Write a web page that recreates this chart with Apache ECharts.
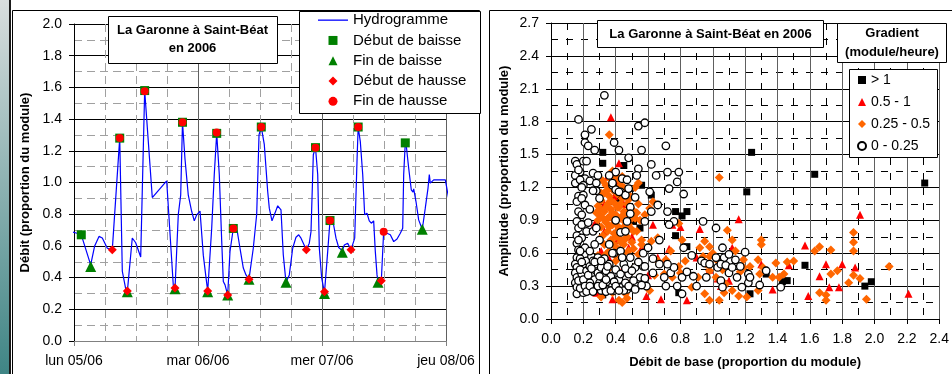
<!DOCTYPE html>
<html>
<head>
<meta charset="utf-8">
<script src="https://cdn.jsdelivr.net/npm/echarts/dist/echarts.min.js"></script>
<style>
  html, body { margin: 0; padding: 0; background: #fff; }
  #chart { width: 952px; height: 374px; }
</style>
</head>
<body>
<div id="chart"></div>
<script>
// ---- hydrogramme (heures depuis lun 05/06 00:00) ----
const dayLabels = ['lun 05/06', 'mar 06/06', 'mer 07/06', 'jeu 08/06'];
const hydroHours = [-0.97,-0.58,0.58,1.41,3.23,4.0,4.84,5.48,6.45,7.41,8.85,9.35,10.0,10.32,11.28,11.94,12.91,13.68,15.15,17.94,
  19.22,19.55,20.19,20.65,21.0,21.48,22.12,22.78,23.28,23.75,24.39,25.03,25.55,25.88,26.65,27.15,27.62,28.12,28.59,28.9,
  29.23,29.75,30.19,30.83,31.61,32.13,32.77,33.29,33.87,34.7,35.36,35.81,36.25,36.83,37.49,37.8,38.32,38.9,39.43,40.06,
  40.51,41.03,41.67,42.33,42.97,43.49,43.94,44.96,45.54,45.87,46.32,46.74,47.17,47.48,47.94,48.48,49.1,49.55,50.19,50.71,
  51.23,51.93,52.32,52.97,53.61,54.33,54.77,55.0,55.41,55.88,56.26,56.71,57.15,57.54,58.0,58.32,58.65,58.84,59.48,59.94,
  60.58,61.22,61.88,62.52,63.16,63.62,63.81,64.12,64.32,64.78,65.28,65.61,65.75,66.19,66.71,67.03,67.41,67.99,68.52,68.77,
  68.96,69.62,71.87,72.52,73.02];
const hydroFlow = [0.65,0.69,0.68,0.67,0.48,0.60,0.66,0.65,0.585,0.575,1.28,0.44,0.33,0.31,0.65,0.62,0.53,1.58,0.905,1.01,
  0.35,0.33,0.80,0.92,1.38,1.15,0.92,0.817,0.758,0.796,0.82,0.54,0.40,0.315,0.71,1.05,1.31,1.05,0.63,0.375,
  0.354,0.29,0.564,0.71,0.69,0.585,0.46,0.417,0.39,0.585,0.80,1.30,1.35,1.24,0.943,0.838,0.758,0.807,0.853,0.828,
  0.543,0.37,0.417,0.585,0.655,0.67,0.649,0.575,0.617,0.69,1.175,1.22,1.05,0.585,0.396,0.305,0.564,0.76,0.743,0.649,
  0.59,0.57,0.606,0.617,0.575,0.649,1.13,1.35,1.26,1.05,0.796,0.806,0.758,0.743,0.758,0.564,0.417,0.375,0.379,0.695,
  0.68,0.67,0.627,0.644,0.68,0.712,1.05,1.25,1.23,1.09,0.954,0.94,0.96,0.88,0.764,0.737,0.705,0.838,0.965,1.05,
  0.996,1.017,1.017,0.90,0.417];

const baisseStart = [[1.41,0.67],[8.85,1.28],[13.68,1.58],[21.0,1.38],[27.62,1.31],[30.83,0.71],[36.25,1.35],[46.74,1.22],[49.55,0.76],[55.0,1.35],[64.12,1.25]];
const baisseEnd = [[3.23,0.47],[10.32,0.31],[19.55,0.33],[25.88,0.31],[29.75,0.29],[33.87,0.39],[41.03,0.37],[48.48,0.30],[51.93,0.56],[58.84,0.37],[67.41,0.705]];
const hausseStart = [[7.41,0.575],[10.32,0.315],[19.55,0.335],[25.88,0.315],[29.75,0.29],[33.87,0.39],[44.96,0.575],[48.48,0.31],[53.61,0.575],[59.48,0.38]];
const hausseEnd = [[8.85,1.28],[13.68,1.575],[21.0,1.38],[27.62,1.315],[30.83,0.71],[36.25,1.35],[46.74,1.22],[49.55,0.76],[55.0,1.35],[59.94,0.69]];

// ---- amplitude / débit de base, par classe de gradient ----
const gradAbove1 = [[0.32,1.52],[0.32,1.42],[0.45,1.40],[0.49,1.19],[0.56,1.22],[0.62,1.13],[1.24,1.52],[1.21,1.16],[1.63,1.32],[2.31,1.24],
  [0.77,0.98],[0.84,0.98],[0.81,0.94],[0.77,0.76],[0.84,0.66],[1.57,0.49],[1.98,0.34],[1.94,0.30],[1.46,0.35],[1.43,0.34],
  [1.33,0.41],[1.23,0.23],[1.07,0.32],[0.79,0.24],[0.32,0.22],[0.20,0.24],[0.41,1.10],[0.51,0.89],[0.55,0.83],[0.41,0.63],[0.25,0.26]];
const grad05to1 = [[0.37,1.84],[0.42,1.42],[1.91,0.95],[1.16,0.91],[0.92,0.82],[0.80,0.84],[0.75,0.86],[0.63,0.86],[1.57,0.67],[1.30,0.50],
  [1.70,0.50],[1.80,0.50],[1.88,0.47],[1.66,0.39],[1.72,0.29],[2.21,0.23],[1.59,0.21],[1.37,0.27],[1.47,0.49],[0.84,0.17],
  [0.68,0.18],[0.59,0.21],[0.38,0.18],[0.28,0.24],[0.73,0.64],[0.56,0.65],[0.48,0.65],[0.41,0.72],[0.27,0.87],[0.29,1.17],
  [0.35,1.30],[0.40,1.25],[0.45,1.05],[0.38,0.95],[0.33,0.80],[0.50,0.75],[1.12,0.65],[1.05,0.30],[0.98,0.45],[0.90,0.56],
  [1.10,0.35],[1.78,0.29],[0.60,0.40],[0.44,0.45],[0.36,0.55],[0.66,0.56],[1.03,0.37],[0.52,0.30],[0.71,0.55],[0.31,0.62],
  [0.39,1.12],[0.33,1.05],[0.47,0.91]];
const grad025to05 = [[0.36,1.68],[1.04,1.29],[0.54,1.24],[1.87,0.79],[1.87,0.70],[1.87,0.62],[1.87,0.40],[1.91,0.37],[1.95,0.18],[2.09,0.48],
  [1.84,0.33],[1.77,0.44],[1.73,0.41],[1.73,0.63],[1.66,0.66],[1.63,0.62],[1.66,0.24],[1.70,0.22],[1.70,0.17],[1.50,0.53],
  [1.46,0.52],[1.39,0.51],[1.37,0.38],[1.41,0.38],[1.44,0.41],[1.30,0.72],[1.30,0.68],[1.29,0.41],[1.31,0.47],[1.28,0.26],
  [1.21,0.20],[1.16,0.21],[1.12,0.26],[1.12,0.72],[1.09,0.81],[1.14,0.62],[1.19,0.47],[1.17,0.43],[1.07,0.24],[1.04,0.17],
  [0.98,0.17],[0.95,0.23],[0.98,0.44],[0.95,0.71],[0.98,0.66],[1.00,0.60],[0.98,0.57],[0.94,0.57],[1.03,0.53],[1.06,0.45],
  [1.02,0.38],[0.87,0.29],[0.83,0.53],[0.79,0.48],[0.80,0.42],[0.79,0.87],[0.81,0.72],[0.74,0.62],[0.71,0.54],[0.66,0.53],
  [0.66,0.74],[0.62,0.71],[0.61,1.01],[0.63,1.07],[0.58,0.95],[0.56,0.68],[0.54,0.59],[0.52,0.48],[0.49,0.42],[0.46,0.23],
  [0.42,0.17],[0.38,0.24],[0.34,0.29],[0.31,0.20],[0.37,0.38],[0.40,0.53],[0.48,0.32],[0.61,0.26],[0.70,0.41],[0.75,0.38],
  [0.91,0.38],[0.96,0.50],[0.92,0.65],[1.08,0.32],[1.28,0.54],[1.23,0.48],[1.19,0.54],[0.44,0.15],[0.47,0.19],[0.35,0.45],
  [0.29,0.58],[0.64,0.40],
  [0.30,1.00],[0.30,0.95],[0.31,1.08],[0.32,0.92],[0.33,1.15],[0.33,0.98],[0.34,1.22],[0.34,0.88],[0.35,1.05],[0.35,0.80],
  [0.36,1.12],[0.36,0.93],[0.37,1.27],[0.37,1.00],[0.37,0.72],[0.38,1.18],[0.38,0.86],[0.39,1.06],[0.39,0.78],[0.40,1.30],
  [0.40,0.95],[0.40,0.66],[0.41,1.14],[0.41,0.85],[0.42,1.02],[0.42,0.74],[0.43,1.22],[0.43,0.92],[0.44,1.10],[0.44,0.80],
  [0.45,0.98],[0.45,0.68],[0.46,1.16],[0.46,0.88],[0.47,1.05],[0.47,0.75],[0.48,0.95],[0.49,1.12],[0.49,0.83],[0.50,1.00],
  [0.50,0.70],[0.52,0.92],[0.52,1.20],[0.53,0.80],[0.54,1.05],[0.55,0.90],[0.32,1.26],[0.29,0.90],[0.36,0.62],[0.42,0.60],
  [0.31,0.84],[0.38,1.35],[0.44,1.30],[0.48,0.62],[0.51,0.64],[0.56,0.72],
  [0.29,1.03],[0.31,1.15],[0.32,0.76],[0.33,0.68],[0.34,1.02],[0.35,0.92],[0.35,1.18],[0.36,0.84],[0.37,1.08],[0.38,0.69],
  [0.38,0.97],[0.39,1.20],[0.39,0.90],[0.40,0.75],[0.41,1.02],[0.41,0.93],[0.42,1.27],[0.42,0.82],[0.43,0.70],[0.43,1.05],
  [0.44,0.94],[0.45,1.20],[0.45,0.84],[0.46,0.73],[0.47,0.98],[0.48,0.86],[0.48,1.09],[0.50,0.92],[0.51,0.80],[0.53,0.97],
  [0.34,0.59],[0.40,0.58],[0.45,0.60],[0.28,0.97]];
const grad0to025 = [[0.33,2.04],[0.17,1.82],[0.25,1.73],[0.21,1.68],[0.21,1.61],[0.23,1.58],[0.27,1.54],[0.39,1.61],[0.42,1.54],[0.54,1.76],
  [0.58,1.79],[0.56,1.54],[0.71,1.58],[0.48,1.47],[0.62,1.41],[0.54,1.37],[0.72,1.34],[0.79,1.34],[0.65,1.31],[0.78,1.25],
  [0.73,1.19],[0.82,1.14],[0.15,1.44],[0.16,1.41],[0.20,1.44],[0.22,1.44],[0.18,1.34],[0.15,1.31],[0.21,1.28],[0.15,1.24],
  [0.26,1.33],[0.29,1.31],[0.18,1.27],[0.24,1.26],[0.28,1.24],[0.40,1.34],[0.36,1.31],[0.44,1.28],[0.47,1.27],[0.53,1.31],
  [0.38,1.22],[0.43,1.16],[0.46,1.13],[0.17,1.12],[0.20,1.13],[0.28,1.17],[0.40,1.18],
  [0.16,1.07],[0.17,0.98],[0.16,0.89],[0.17,0.83],[0.16,0.76],[0.16,0.69],[0.17,0.63],[0.16,0.56],[0.15,0.50],[0.16,0.47],
  [0.15,0.42],[0.16,0.38],[0.15,0.33],[0.16,0.29],[0.16,0.23],[0.19,1.10],[0.19,0.95],[0.19,0.86],[0.19,0.74],[0.21,0.59],
  [0.20,0.50],[0.19,0.41],[0.19,0.32],[0.20,0.24],[0.18,0.55],[0.18,0.45],[0.18,0.28],[0.21,0.65],[0.21,1.04],[0.22,0.80],
  [0.22,0.44],[0.22,0.53],[0.23,0.35],[0.23,0.27],[0.24,0.48],[0.25,0.57],[0.25,0.40],[0.26,0.53],[0.26,0.31],[0.27,0.45],
  [0.27,0.36],[0.28,0.50],[0.28,0.28],[0.29,0.42],[0.29,0.56],[0.30,0.33],[0.31,0.47],[0.31,0.26],[0.32,0.38],[0.33,0.55],
  [0.33,0.29],[0.34,0.44],[0.35,0.34],[0.36,0.27],[0.36,0.50],[0.37,0.39],[0.38,0.30],[0.39,0.60],[0.40,0.45],[0.41,0.28],
  [0.42,0.36],[0.43,0.62],[0.44,0.29],[0.45,0.50],[0.46,0.33],[0.47,0.27],[0.48,0.41],[0.49,0.56],[0.50,0.29],[0.52,0.47],
  [0.53,0.30],[0.55,0.38],[0.57,0.48],[0.58,0.37],[0.59,0.30],[0.26,0.80],[0.28,0.83],[0.30,0.72],[0.36,0.68],[0.38,0.60],
  [0.40,0.90],[0.43,0.79],[0.46,0.80],[0.47,0.89],[0.49,1.02],[0.49,0.96],[0.52,1.11],[0.48,1.19],[0.42,1.16],[0.38,1.24],
  [0.61,1.16],[0.62,0.98],[0.66,1.04],[0.67,0.72],[0.58,0.89],[0.30,1.10],[0.24,0.62],[0.27,0.68],[0.24,0.33],[0.34,0.25],
  [0.39,0.26],[0.45,0.26],[0.51,0.35],
  [0.58,0.48],[0.63,0.42],[0.67,0.50],[0.70,0.38],[0.71,0.30],[0.74,0.42],[0.76,0.47],[0.72,0.50],[0.78,0.30],[0.81,0.23],
  [0.82,0.65],[0.81,0.38],[0.84,0.43],[0.87,0.58],[0.88,0.39],[0.90,0.30],[0.72,0.98],[0.96,0.38],[0.93,0.53],[0.95,0.51],
  [0.98,0.50],[1.02,0.56],[1.02,0.83],[1.06,0.65],[1.07,0.56],[1.03,0.47],[1.05,0.50],[1.08,0.49],[1.10,0.42],[1.12,0.47],
  [1.14,0.54],[1.17,0.48],[1.15,0.38],[1.05,0.35],[1.06,0.29],[1.20,0.61],[1.22,0.41],[1.22,0.33],[1.23,0.38],[1.18,0.29],
  [1.29,0.31],[1.33,0.44],[1.42,0.29],[1.10,0.59],[0.94,0.89],[0.76,0.89],[0.73,0.86],
  [0.17,0.35],[0.18,0.62],[0.17,0.72],[0.19,0.52],[0.20,0.36],[0.21,0.30],[0.22,0.25],[0.23,0.40],[0.24,0.30],[0.25,0.46],
  [0.26,0.25],[0.27,0.52],[0.29,0.30],[0.30,0.39],[0.31,0.53],[0.32,0.31],[0.34,0.36],[0.35,0.48],[0.37,0.26],[0.39,0.34],
  [0.40,0.30],[0.42,0.26],[0.43,0.41],[0.44,0.56],[0.46,0.46],[0.48,0.30],[0.50,0.44],[0.52,0.27],[0.54,0.52],[0.56,0.31],
  [0.23,0.88],[0.24,1.00],[0.20,1.22],[0.17,1.36],[0.19,1.20],[0.26,1.17],[0.57,0.60],[0.60,0.65],[0.63,0.55]];

const FONT = '"Liberation Sans", Arial, sans-serif';
const hydroData = hydroHours.map((h, i) => [h, hydroFlow[i]]);

// legend icons (path icons keep their aspect inside the legend box)
const ICON_LINE = 'path://M0,0H30V1.3H0Z';
const ICON_SQUARE = 'path://M0,0H1V1H0Z';
const ICON_TRI = 'path://M0.5,0L1,1H0Z';
const ICON_DIAMOND = 'path://M0.5,0L1,0.5L0.5,1L0,0.5Z';

const chart = echarts.init(document.getElementById('chart'), null, { renderer: 'canvas' });

function gridAxes(grid) {
  return {
    gridIndex: grid,
    type: 'value',
    axisLine: { show: true, onZero: false, lineStyle: { color: '#000', width: 1 } },
    axisTick: { show: true, length: 5, lineStyle: { color: '#000' } },
    axisLabel: { color: '#000', fontSize: 14, fontFamily: FONT, margin: 12 },
    splitLine: { show: true, lineStyle: { color: '#000', width: 1 } },
    minorTick: { show: false, splitNumber: 2 },
    minorSplitLine: { show: true, lineStyle: { color: '#000', width: 1, type: [7, 8] } },
    nameTextStyle: { color: '#000', fontSize: 13, fontWeight: 'bold', fontFamily: FONT },
    nameLocation: 'middle'
  };
}

const boxStyle = { fill: '#fff', stroke: '#000', lineWidth: 1 };
function boxText(x, y, text) {
  return { type: 'text', z: 12, x: x, y: y,
    style: { text: text, fill: '#000', font: `bold 13px ${FONT}`, align: 'center', verticalAlign: 'middle' } };
}

chart.setOption({
  animation: false,
  backgroundColor: '#fff',
  grid: [
    { left: 74, top: 24, width: 372, height: 317 },
    { left: 551, top: 23, width: 400, height: 299 }
  ],
  xAxis: [
    Object.assign(gridAxes(0), {
      min: 0, max: 72, interval: 24,
      minorTick: { show: false, splitNumber: 4 },
      axisLine: { show: true, onZero: false, lineStyle: { color: '#808080' } },
      axisTick: { show: true, length: 5, lineStyle: { color: '#808080' } },
      axisLabel: { color: '#000', fontSize: 14, fontFamily: FONT, margin: 13, formatter: v => dayLabels[Math.round(v / 24)] },
      splitLine: { show: true, lineStyle: { color: '#606060' } },
      minorSplitLine: { show: true, lineStyle: { color: '#a0a0a0', type: [8, 5] } }
    }),
    Object.assign(gridAxes(1), {
      min: 0, max: 2.4, interval: 0.2,
      axisLabel: { color: '#000', fontSize: 14, fontFamily: FONT, margin: 13, formatter: v => v.toFixed(1) },
      splitLine: { show: true, lineStyle: { color: '#606060' } },
      name: 'Débit de base (proportion du module)', nameGap: 37
    })
  ],
  yAxis: [
    Object.assign(gridAxes(0), {
      min: 0, max: 2, interval: 0.2,
      axisLabel: { color: '#000', fontSize: 14, fontFamily: FONT, margin: 12, formatter: v => v.toFixed(1) },
      minorSplitLine: { show: true, lineStyle: { color: '#a0a0a0', type: [8, 5] } },
      name: 'Débit (proportion du module)', nameGap: 42
    }),
    Object.assign(gridAxes(1), {
      min: 0, max: 2.7, interval: 0.3,
      axisLabel: { color: '#000', fontSize: 14, fontFamily: FONT, margin: 12, formatter: v => v.toFixed(1) },
      name: 'Amplitude (proportion du module)', nameGap: 40
    })
  ],
  legend: [
    {
      data: [
        { name: 'Hydrogramme', icon: ICON_LINE },
        { name: 'Début de baisse', icon: ICON_SQUARE },
        { name: 'Fin de baisse', icon: ICON_TRI },
        { name: 'Début de hausse', icon: ICON_DIAMOND },
        { name: 'Fin de hausse', icon: 'circle' }
      ],
      orient: 'vertical', left: 318, top: 10, padding: 0, itemWidth: 30, itemHeight: 9, itemGap: 0,
      selectedMode: false, z: 13,
      textStyle: { color: '#000', fontSize: 15, fontFamily: FONT, lineHeight: 20.3 }
    },
    {
      data: [
        { name: '> 1', icon: ICON_SQUARE },
        { name: '0.5 - 1', icon: ICON_TRI },
        { name: '0.25 - 0.5', icon: ICON_DIAMOND },
        { name: '0 - 0.25', icon: 'circle' }
      ],
      orient: 'vertical', left: 857, top: 69, padding: 0, itemWidth: 8, itemHeight: 8, itemGap: 0,
      selectedMode: false, z: 13,
      textStyle: { color: '#000', fontSize: 14, fontFamily: FONT, lineHeight: 22 }
    }
  ],
  graphic: { elements: [
    // page edge and chart frames
    { type: 'rect', z: 11, shape: { x: 0, y: 0, width: 9, height: 374 },
      style: { fill: new echarts.graphic.LinearGradient(0, 0, 0, 1, [{ offset: 0, color: '#d9dede' }, { offset: 1, color: '#3f8585' }]) } },
    { type: 'rect', z: 11, shape: { x: 9, y: 0, width: 2, height: 374 }, style: { fill: '#1a1a1a' } },
    { type: 'rect', z: 1, shape: { x: 12.5, y: 10.5, width: 467, height: 370 }, style: { fill: 'none', stroke: '#000', lineWidth: 1 } },
    { type: 'rect', z: 1, shape: { x: 489.5, y: 10.5, width: 470, height: 370 }, style: { fill: 'none', stroke: '#000', lineWidth: 1 } },
    // title / legend boxes
    { type: 'rect', z: 11, shape: { x: 108.5, y: 16.5, width: 169, height: 47 }, style: boxStyle },
    boxText(192.5, 30, 'La Garonne à Saint-Béat'),
    boxText(192.5, 48, 'en 2006'),
    { type: 'rect', z: 11, shape: { x: 299.5, y: 11.5, width: 181, height: 102 }, style: boxStyle },
    { type: 'rect', z: 11, shape: { x: 597.5, y: 20.5, width: 226, height: 27 }, style: boxStyle },
    boxText(710.5, 34, 'La Garonne à Saint-Béat en 2006'),
    { type: 'rect', z: 11, shape: { x: 837.5, y: 23.5, width: 109, height: 39 }, style: boxStyle },
    boxText(892, 33, 'Gradient'),
    boxText(892, 52, '(module/heure)'),
    { type: 'rect', z: 11, shape: { x: 849.5, y: 69.5, width: 88, height: 88 }, style: boxStyle }
  ] },
  series: [
    { name: 'Hydrogramme', type: 'line', xAxisIndex: 0, yAxisIndex: 0, data: hydroData,
      symbol: 'none', showSymbol: false, clip: false, z: 3,
      lineStyle: { color: '#0000ff', width: 1.2 }, itemStyle: { color: '#0000ff' } },
    { name: 'Début de baisse', type: 'scatter', xAxisIndex: 0, yAxisIndex: 0, data: baisseStart,
      symbol: 'rect', symbolSize: 9, z: 4, itemStyle: { color: '#008000', opacity: 1 } },
    { name: 'Fin de baisse', type: 'scatter', xAxisIndex: 0, yAxisIndex: 0, data: baisseEnd,
      symbol: 'triangle', symbolSize: 11, z: 4, itemStyle: { color: '#008000', opacity: 1 } },
    { name: 'Début de hausse', type: 'scatter', xAxisIndex: 0, yAxisIndex: 0, data: hausseStart,
      symbol: 'diamond', symbolSize: 9, z: 5, itemStyle: { color: '#ff0000', opacity: 1 } },
    { name: 'Fin de hausse', type: 'scatter', xAxisIndex: 0, yAxisIndex: 0, data: hausseEnd,
      symbol: 'circle', symbolSize: 8, z: 5, itemStyle: { color: '#ff0000', opacity: 1 } },

    { name: '> 1', type: 'scatter', xAxisIndex: 1, yAxisIndex: 1, data: gradAbove1,
      symbol: 'rect', symbolSize: 7, z: 3, itemStyle: { color: '#000', opacity: 1 } },
    { name: '0.5 - 1', type: 'scatter', xAxisIndex: 1, yAxisIndex: 1, data: grad05to1,
      symbol: 'triangle', symbolSize: 8, z: 3, itemStyle: { color: '#ff0000', opacity: 1 } },
    { name: '0.25 - 0.5', type: 'scatter', xAxisIndex: 1, yAxisIndex: 1, data: grad025to05,
      symbol: 'diamond', symbolSize: 9, z: 3, itemStyle: { color: '#ff6600', opacity: 1 } },
    { name: '0 - 0.25', type: 'scatter', xAxisIndex: 1, yAxisIndex: 1, data: grad0to025,
      symbol: 'circle', symbolSize: 7.5, z: 3, itemStyle: { color: '#fff', borderColor: '#000', borderWidth: 1.3, opacity: 1 } }
  ]
});
</script>
</body>
</html>
